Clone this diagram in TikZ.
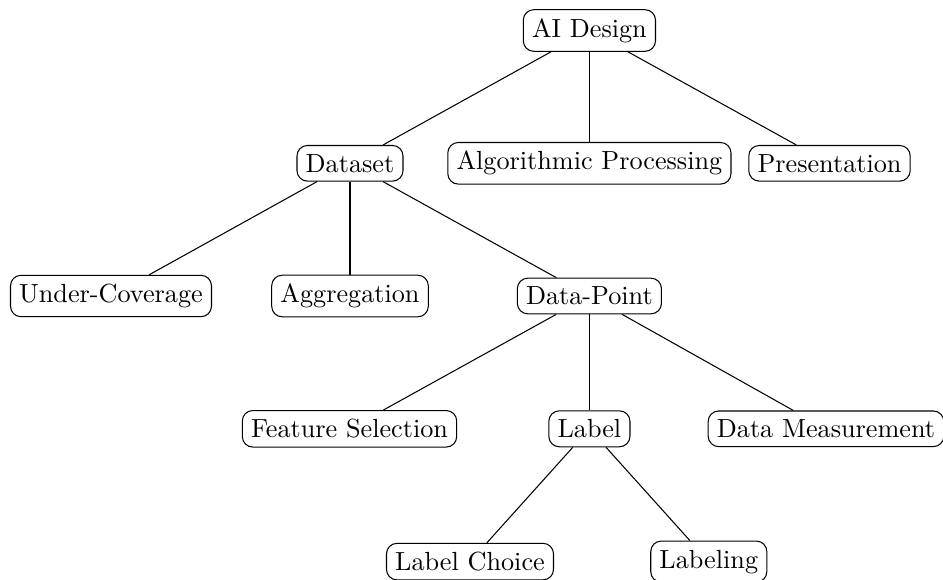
\documentclass[tikz,border=0pt]{standalone}
\begin{document}
\begin{tikzpicture}[x=0.3817pt,y=-0.3817pt,
  box/.style={draw,rounded corners,inner sep=3.333pt}]
\useasboundingbox (0,0) rectangle (943,579);
% level 1
\node[box] (ai) at (589.4,30.5) {AI Design};
% level 2
\node[box] (ds) at (350,163.3) {Dataset};
\node[box] (alg) at (589.4,163.3) {Algorithmic Processing};
\node[box] (pres) at (829.5,163.3) {Presentation};
% level 3
\node[box] (uc) at (111,296) {Under-Coverage};
\node[box] (agg) at (350,296) {Aggregation};
\node[box] (dp) at (589.4,296) {Data-Point};
% level 4
\node[box] (fs) at (349.5,428.8) {Feature Selection};
\node[box] (lab) at (589.4,428.8) {Label};
\node[box] (dm) at (826,428.8) {Data Measurement};
% level 5
\node[box] (lc) at (470,561.6) {Label Choice};
\node[box] (lbl) at (708.8,561.6) {Labeling};
% connectors
\draw (ai) -- (ds);
\draw (ai) -- (alg);
\draw (ai) -- (pres);
\draw (ds) -- (uc);
\draw (ds) -- (agg);
\draw (ds) -- (dp);
\draw (dp) -- (fs);
\draw (dp) -- (lab);
\draw (dp) -- (dm);
\draw (lab) -- (lc);
\draw (lab) -- (lbl);
\end{tikzpicture}
\end{document}
